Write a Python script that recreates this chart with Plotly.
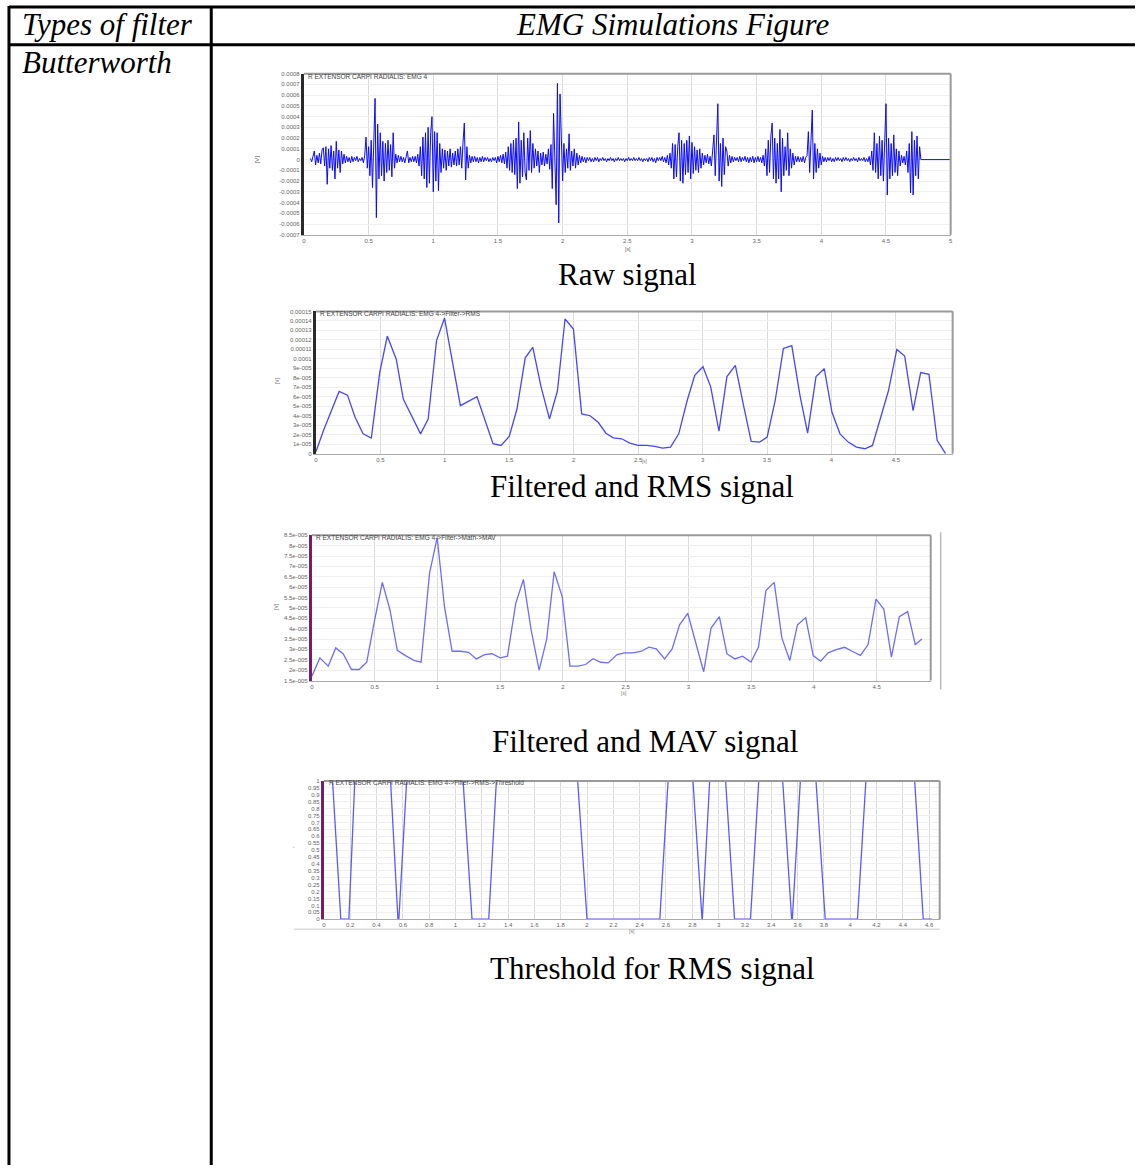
import plotly.graph_objects as go

W, H = 1137, 1168

# ---------------- data ----------------
# Raw EMG (units of 1e-5 V), rows of 10 samples every 0.01 s starting at 0.05 s
raw_start = 0.05
raw_step = 0.01
raw_rows = [
    [1, -2, 3, 8, -5, 4, -3, 6, -4, 9],
    [11, -6, 12, -23, 10, -8, 13, -10, 8, -18],
    [17, -8, 9, -12, 8, -4, 5, -3, 3, -2],
    [2, -3, 3, -2, 2, -1, 3, -2, 1, -1],
    [2, -3, 4, 21, -8, 12, -15, 18, -26, 9],
    [57, -54, 33, -18, 25, -15, 17, -20, 15, -12],
    [18, -10, 14, -16, 25, -8, 5, -3, 4, -2],
    [3, -2, 2, -3, 2, 8, -3, 2, -2, 3],
    [-2, 3, -3, 5, -6, 12, -15, 21, -18, 25],
    [-26, 30, -22, 25, 40, -30, 26, -20, 25, -29],
    [15, -12, 10, -8, 9, -10, 8, -6, 10, -7],
    [6, -5, 8, -6, 10, -5, 12, -8, 16, 34],
    [-19, 12, -8, 4, -3, 3, -2, 3, -2, 2],
    [-3, 2, -2, 3, -2, 2, -1, 2, -2, 1],
    [-2, 2, -1, 2, -3, 3, -2, 4, -3, 5],
    [-4, 7, -8, 12, -10, 15, -12, 18, -14, 20],
    [-27, 35, -22, 18, -16, 25, -12, -19, 20, -10],
    [27, -12, 15, -8, 10, -6, 8, -12, 6, -5],
    [7, -6, 5, -4, 10, -9, 14, -27, 43, -15],
    [-42, 71, -59, 61, 25, -20, 15, -12, 10, -8],
    [24, -10, 8, -6, 10, -8, 6, -5, 4, -3],
    [3, -2, 2, -3, 2, -1, 2, -2, 1, -2],
    [2, -1, 2, -2, 1, -1, 2, -1, 1, -2],
    [1, -1, 2, -1, 1, -2, 1, -1, 2, -1],
    [1, -1, 1, -2, 1, -1, 2, -1, 1, -1],
    [2, -1, 1, -1, 2, -1, 1, -2, 1, -1],
    [1, -2, 2, -1, 2, -2, 1, -3, 2, -1],
    [2, -1, 3, -2, 2, -3, 4, -5, 6, -8],
    [15, -18, 14, -16, 12, 25, -20, 18, -22, 15],
    [-14, 18, -12, 22, -18, 16, -13, 12, -10, 9],
    [-12, 10, -8, 6, -5, 4, -3, 5, -4, 3],
    [-6, 10, 23, -15, 18, 52, -20, 15, -25, 20],
    [-14, 12, 8, -6, 4, -3, 3, -2, 2, -1],
    [2, -2, 3, -2, 2, -1, 3, -2, 2, -3],
    [2, -2, 3, -3, 2, -2, 3, -2, 2, -3],
    [4, -6, 10, -15, 18, -12, 22, 34, -18, 20],
    [-22, 15, -18, 28, -30, 20, -15, 12, -10, 25],
    [-15, 10, -8, 6, -5, 3, -2, 3, -2, 2],
    [-2, 3, -3, 2, 4, 26, -12, 18, 46, -18],
    [15, -12, 10, -8, 6, -5, 3, -2, 2, -2],
    [2, -1, 2, -2, 1, -2, 2, -1, 2, -1],
    [1, -2, 2, -1, 2, -1, 1, -2, 1, -1],
    [2, -1, 1, -2, 2, -1, 1, -1, 2, -2],
    [1, -2, 3, -5, 8, -10, 25, -12, 15, -18],
    [22, -15, 18, -20, 10, 52, -33, 20, -18, 15],
    [-15, 23, -12, 10, -15, 8, -6, 4, -3, 3],
    [-5, 8, -12, 15, -31, 26, -33, 18, -15, 22],
    [-18, 12, 0],
]
raw_end_time = 5.0
raw_end_value = 0

# RMS (units of 1e-5 V)
rms_t = [0.0, 0.059, 0.18, 0.245, 0.304, 0.366, 0.43, 0.495, 0.554, 0.624, 0.678,
         0.745, 0.812, 0.871, 0.936, 0.998, 1.057, 1.121, 1.25, 1.315, 1.374,
         1.436, 1.5, 1.56, 1.624, 1.683, 1.745, 1.812, 1.874, 1.933, 1.998,
         2.062, 2.127, 2.19, 2.25, 2.307, 2.372, 2.436, 2.5, 2.565, 2.63, 2.69,
         2.751, 2.815, 2.88, 2.939, 3.003, 3.063, 3.127, 3.189, 3.254, 3.318,
         3.377, 3.442, 3.501, 3.563, 3.627, 3.692, 3.756, 3.815, 3.88, 3.944,
         4.004, 4.066, 4.13, 4.194, 4.259, 4.318, 4.383, 4.442, 4.507, 4.568,
         4.633, 4.692, 4.756, 4.82, 4.885]
rms_v = [0.2, 2.44, 6.56, 6.17, 3.84, 2.09, 1.64, 8.55, 12.4, 9.94, 5.76,
         3.84, 2.09, 3.66, 11.93, 14.3, 9.94, 5.06, 6.0, 3.49, 1.05,
         0.87, 1.81, 4.71, 10.1, 11.2, 7.15, 3.66, 6.63, 14.2, 13.15,
         4.19, 4.0, 3.31, 2.16, 1.67, 1.57, 1.12, 0.87, 0.87, 0.77, 0.59,
         0.70, 2.09, 5.58, 8.27, 9.17, 7.05, 2.37, 8.13, 9.31, 5.06,
         1.29, 1.22, 1.74, 5.58, 11.09, 11.4, 6.1, 2.16, 8.13, 8.96,
         4.36, 2.09, 1.22, 0.70, 0.52, 0.87, 3.84, 6.63, 10.99, 10.29,
         4.53, 8.55, 8.37, 1.4, 0.0]

# MAV (units of 1e-5 V)
mav_t = [0.0, 0.063, 0.13, 0.19, 0.25, 0.315, 0.376, 0.437, 0.5, 0.561, 0.622,
         0.68, 0.746, 0.812, 0.87, 0.937, 0.998, 1.056, 1.117, 1.183, 1.248,
         1.31, 1.376, 1.434, 1.5, 1.558, 1.624, 1.685, 1.746, 1.81, 1.87,
         1.93, 1.994, 2.056, 2.121, 2.18, 2.24, 2.30, 2.36, 2.431, 2.492,
         2.558, 2.625, 2.685, 2.744, 2.81, 2.87, 2.929, 2.994, 3.061, 3.121,
         3.18, 3.246, 3.307, 3.37, 3.431, 3.498, 3.558, 3.617, 3.683, 3.744,
         3.807, 3.868, 3.934, 3.994, 4.053, 4.113, 4.177, 4.244, 4.304, 4.37,
         4.431, 4.494, 4.556, 4.617, 4.68, 4.746, 4.807, 4.86]
mav_v = [1.71, 2.59, 2.19, 3.07, 2.78, 2.03, 2.03, 2.38, 4.42, 6.23, 4.90,
         2.95, 2.70, 2.47, 2.38, 6.66, 8.39, 5.06, 2.91, 2.91, 2.86,
         2.54, 2.75, 2.79, 2.59, 2.67, 5.22, 6.37, 3.95, 2.0, 3.47,
         6.74, 5.54, 2.19, 2.19, 2.27, 2.55, 2.38, 2.35, 2.75, 2.83,
         2.83, 2.91, 3.11, 3.03, 2.54, 3.02, 4.18, 4.74, 3.23, 1.92,
         4.03, 4.58, 2.78, 2.54, 2.67, 2.39, 3.11, 5.83, 6.23, 3.55,
         2.46, 4.18, 4.53, 2.70, 2.43, 2.83, 2.99, 3.10, 2.91, 2.71,
         3.23, 5.42, 4.94, 2.63, 4.58, 4.82, 3.23, 3.50]

# Threshold of RMS
thr_t = [0.0, 0.066, 0.129, 0.19, 0.235, 0.507, 0.563, 0.57, 0.629, 1.058,
         1.126, 1.253, 1.311, 1.929, 2.0, 2.553, 2.616, 2.805, 2.874, 2.876,
         2.932, 3.053, 3.121, 3.242, 3.305, 3.487, 3.555, 3.56, 3.621, 3.74,
         3.81, 4.055, 4.119, 4.49, 4.555, 4.62]
thr_v = [1, 1, 0, 0, 1, 1, 0, 0, 1, 1,
         0, 0, 1, 1, 0, 0, 1, 1, 0, 0,
         1, 1, 0, 0, 1, 1, 0, 0, 1, 1,
         0, 0, 1, 1, 0, 0]

# tick labels
raw_yticks = [0.0008, 0.0007, 0.0006, 0.0005, 0.0004, 0.0003, 0.0002, 0.0001, 0,
              -0.0001, -0.0002, -0.0003, -0.0004, -0.0005, -0.0006, -0.0007]
raw_yticktext = ["0.0008", "0.0007", "0.0006", "0.0005", "0.0004", "0.0003", "0.0002",
                 "0.0001", "0", "-0.0001", "-0.0002", "-0.0003", "-0.0004", "-0.0005",
                 "-0.0006", "-0.0007"]
rms_yticks = [0.00015, 0.00014, 0.00013, 0.00012, 0.00011, 0.0001, 9e-5, 8e-5, 7e-5,
              6e-5, 5e-5, 4e-5, 3e-5, 2e-5, 1e-5, 0]
rms_yticktext = ["0.00015", "0.00014", "0.00013", "0.00012", "0.00011", "0.0001",
                 "9e-005", "8e-005", "7e-005", "6e-005", "5e-005", "4e-005", "3e-005",
                 "2e-005", "1e-005", "0"]
mav_yticks = [8.5e-5, 8e-5, 7.5e-5, 7e-5, 6.5e-5, 6e-5, 5.5e-5, 5e-5, 4.5e-5, 4e-5,
              3.5e-5, 3e-5, 2.5e-5, 2e-5, 1.5e-5]
mav_yticktext = ["8.5e-005", "8e-005", "7.5e-005", "7e-005", "6.5e-005", "6e-005",
                 "5.5e-005", "5e-005", "4.5e-005", "4e-005", "3.5e-005", "3e-005",
                 "2.5e-005", "2e-005", "1.5e-005"]
thr_yticktext = ["1", "0.95", "0.9", "0.85", "0.8", "0.75", "0.7", "0.65", "0.6",
                 "0.55", "0.5", "0.45", "0.4", "0.35", "0.3", "0.25", "0.2", "0.15",
                 "0.1", "0.05", "0"]
thr_yticks = [1, 0.95, 0.9, 0.85, 0.8, 0.75, 0.7, 0.65, 0.6, 0.55, 0.5, 0.45, 0.4,
              0.35, 0.3, 0.25, 0.2, 0.15, 0.1, 0.05, 0]
x_ticks_half = [0, 0.5, 1, 1.5, 2, 2.5, 3, 3.5, 4, 4.5, 5]
x_ticktext_half = ["0", "0.5", "1", "1.5", "2", "2.5", "3", "3.5", "4", "4.5", "5"]
thr_xticks = [0, 0.2, 0.4, 0.6, 0.8, 1, 1.2, 1.4, 1.6, 1.8, 2, 2.2, 2.4, 2.6, 2.8,
              3, 3.2, 3.4, 3.6, 3.8, 4, 4.2, 4.4, 4.6]
thr_xticktext = ["0", "0.2", "0.4", "0.6", "0.8", "1", "1.2", "1.4", "1.6", "1.8",
                 "2", "2.2", "2.4", "2.6", "2.8", "3", "3.2", "3.4", "3.6", "3.8",
                 "4", "4.2", "4.4", "4.6"]

# ---------------- build ----------------
raw_v = []
for row in raw_rows:
    raw_v.extend(row)
raw_t = [raw_start + i * raw_step for i in range(len(raw_v))]
raw_t.append(raw_end_time)
raw_v.append(raw_end_value)
raw_y = [v * 1e-5 for v in raw_v]

fig = go.Figure()
fig.add_trace(go.Scatter(x=raw_t, y=raw_y, mode="lines",
                         line=dict(color="#0a0aff", width=1), xaxis="x", yaxis="y"))
fig.add_trace(go.Scatter(x=rms_t, y=[v * 1e-5 for v in rms_v], mode="lines",
                         line=dict(color="#4646ff", width=1.3), xaxis="x2", yaxis="y2"))
fig.add_trace(go.Scatter(x=mav_t, y=[v * 1e-5 for v in mav_v], mode="lines",
                         line=dict(color="#6d6dff", width=1.3), xaxis="x3", yaxis="y3"))
fig.add_trace(go.Scatter(x=thr_t, y=thr_v, mode="lines",
                         line=dict(color="#5a5aff", width=1.3), xaxis="x4", yaxis="y4"))


def dom_x(a, b):
    return [a / W, b / W]


def dom_y(top, bot):
    return [1 - bot / H, 1 - top / H]


tickfont = dict(family="Liberation Sans, Arial", size=6, color="#666")

boxes = {
    1: (303, 952, 71, 233),
    2: (315, 954, 310, 453),
    3: (311, 932, 535, 681),
    4: (323, 941, 782, 921),
}
xcfg = {
    1: ([0, 5], x_ticks_half, x_ticktext_half),
    2: ([0, 4.94], x_ticks_half[:10], x_ticktext_half[:10]),
    3: ([0, 4.93], x_ticks_half[:10], x_ticktext_half[:10]),
    4: ([0, 4.68], thr_xticks, thr_xticktext),
}
ycfg = {
    1: ([-0.0007, 0.0008], raw_yticks, raw_yticktext, "#2a2a2a"),
    2: ([0, 0.00015], rms_yticks, rms_yticktext, "#2a2a2a"),
    3: ([1.5e-5, 8.5e-5], mav_yticks, mav_yticktext, "#7a1a6e"),
    4: ([0, 1], thr_yticks, thr_yticktext, "#7a1a6e"),
}

layout_axes = {}
for i in range(1, 5):
    x0, x1, y0, y1 = boxes[i]
    xr, xt, xtt = xcfg[i]
    yr, yt, ytt, ycol = ycfg[i]
    sfx = "" if i == 1 else str(i)
    layout_axes["xaxis" + sfx] = dict(
        domain=dom_x(x0, x1), range=xr, tickvals=xt, ticktext=xtt,
        anchor="y" + sfx, showgrid=True, gridcolor="#dcdcdc", gridwidth=1,
        showline=True, linecolor="#aaaaaa", linewidth=1, zeroline=False,
        ticks="", tickfont=tickfont, fixedrange=True)
    layout_axes["yaxis" + sfx] = dict(
        domain=dom_y(y0, y1), range=yr, tickvals=yt, ticktext=ytt,
        anchor="x" + sfx, showgrid=True, gridcolor="#efefef", gridwidth=1,
        showline=True, linecolor=ycol, linewidth=3, zeroline=False,
        ticks="", tickfont=tickfont, fixedrange=True)

shapes = []
# plot frames (top and right)
for i in range(1, 5):
    x0, x1, y0, y1 = boxes[i]
    shapes.append(dict(type="line", xref="paper", yref="paper",
                       x0=x0 / W, x1=x1 / W, y0=1 - y0 / H, y1=1 - y0 / H,
                       line=dict(color="#9a9a9a", width=2)))
    shapes.append(dict(type="line", xref="paper", yref="paper",
                       x0=x1 / W, x1=x1 / W, y0=1 - y0 / H, y1=1 - y1 / H,
                       line=dict(color="#9a9a9a", width=2)))
# extra panel lines
shapes.append(dict(type="line", xref="paper", yref="paper",
                   x0=942 / W, x1=942 / W, y0=1 - 532 / H, y1=1 - 690 / H,
                   line=dict(color="#bbbbbb", width=1.5)))
shapes.append(dict(type="line", xref="paper", yref="paper",
                   x0=293 / W, x1=941 / W, y0=1 - 931 / H, y1=1 - 931 / H,
                   line=dict(color="#dddddd", width=1.5)))
# table lines
tbl = dict(color="black", width=3)
shapes += [
    dict(type="line", xref="paper", yref="paper", x0=7 / W, x1=1, y0=1 - 4 / H, y1=1 - 4 / H, line=tbl),
    dict(type="line", xref="paper", yref="paper", x0=7 / W, x1=1, y0=1 - 42 / H, y1=1 - 42 / H, line=tbl),
    dict(type="line", xref="paper", yref="paper", x0=7 / W, x1=7 / W, y0=1 - 3 / H, y1=0, line=tbl),
    dict(type="line", xref="paper", yref="paper", x0=210 / W, x1=210 / W, y0=1 - 3 / H, y1=0, line=tbl),
]

serif = "Liberation Serif, Times New Roman, serif"
ann = []


def add_text(txt, px, py, size=31, italic=False, xanchor="center", color="black",
             family=serif, angle=0):
    t = "<i>%s</i>" % txt if italic else txt
    ann.append(dict(text=t, x=px / W, y=1 - py / H, xref="paper", yref="paper",
                    xanchor=xanchor, yanchor="middle", showarrow=False,
                    textangle=angle,
                    font=dict(family=family, size=size, color=color)))


add_text("Types of filter", 18, 22, italic=True, xanchor="left")
add_text("EMG Simulations Figure", 673, 22, italic=True)
add_text("Butterworth", 18, 60, italic=True, xanchor="left")
add_text("Raw signal", 628, 273)
add_text("Filtered and RMS signal", 642, 486)
add_text("Filtered and MAV signal", 645, 742)
add_text("Threshold for RMS signal", 653, 970)

small = "Liberation Sans, Arial"
add_text("R EXTENSOR CARPI RADIALIS: EMG 4", 305, 74, size=6.5, xanchor="left",
         color="#444", family=small)
add_text("R EXTENSOR CARPI RADIALIS: EMG 4-&gt;Filter-&gt;RMS", 317, 312, size=6.5,
         xanchor="left", color="#444", family=small)
add_text("R EXTENSOR CARPI RADIALIS: EMG 4-&gt;Filter-&gt;Math-&gt;MAV", 313, 537,
         size=6.5, xanchor="left", color="#444", family=small)
add_text("R EXTENSOR CARPI RADIALIS: EMG 4-&gt;Filter-&gt;RMS-&gt;Threshold", 326, 784,
         size=6.5, xanchor="left", color="#444", family=small)
add_text("[V]", 256, 157, size=6, color="#555", family=small, angle=-90)
add_text("[s]", 628, 247, size=5, color="#555", family=small)
add_text("[V]", 276, 380, size=5, color="#777", family=small, angle=-90)
add_text("[s]", 645, 461, size=4.5, color="#777", family=small)
add_text("[V]", 275, 607, size=5, color="#777", family=small, angle=-90)
add_text("[s]", 624, 694, size=5, color="#777", family=small)
add_text("'", 293, 850, size=6, color="#777", family=small)
add_text("[s]", 632, 933, size=5, color="#777", family=small)

fig.update_layout(
    width=W, height=H, margin=dict(l=0, r=0, t=0, b=0),
    paper_bgcolor="white", plot_bgcolor="white", showlegend=False,
    shapes=shapes, annotations=ann, **layout_axes)

fig.write_html("out.html", config={"displayModeBar": False})
